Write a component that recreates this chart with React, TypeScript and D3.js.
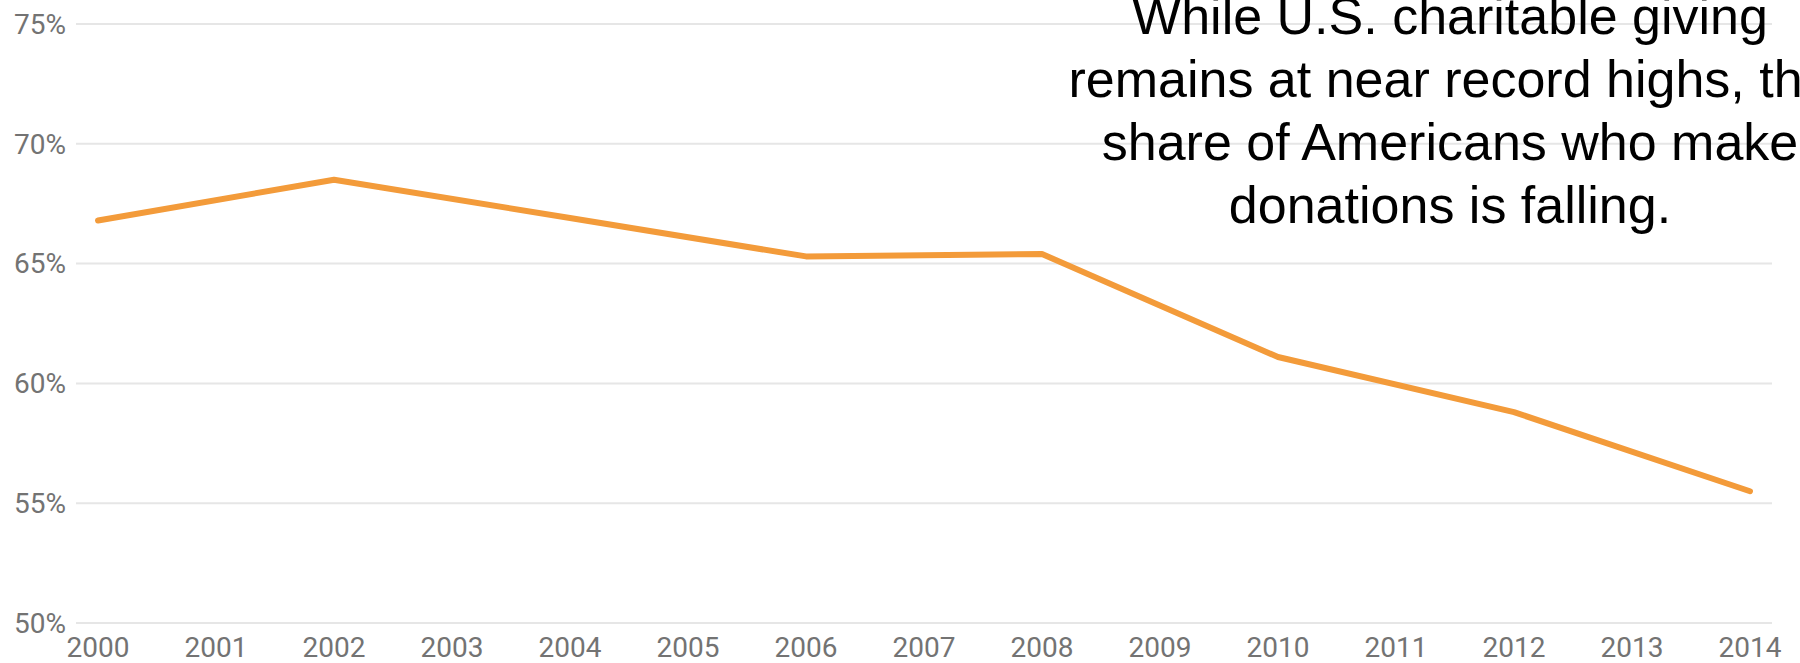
import React, { useEffect } from "react";
import * as d3 from "d3";

const years = [2000, 2002, 2004, 2006, 2008, 2010, 2012, 2014];
const shares = [66.8, 68.5, 66.9, 65.3, 65.4, 61.1, 58.8, 55.5];
const yTicks = [50, 55, 60, 65, 70, 75];
const xTicks = d3.range(2000, 2015);
const noteLines = [
  "While U.S. charitable giving",
  "remains at near record highs, the",
  "share of Americans who make",
  "donations is falling.",
];

const W = 1800;
const H = 663;

export default function App() {
  useEffect(() => {
    document.body.style.margin = "0";
  }, []);

  const x = d3.scaleLinear().domain([2000, 2014]).range([98, 1750]);
  const y = d3.scaleLinear().domain([50, 75]).range([623, 24]);
  const line = d3
    .line<number>()
    .x((_, i) => x(years[i]))
    .y((d) => y(d));

  return (
    <svg width={W} height={H} style={{ display: "block", background: "#fff" }}>
      {yTicks.map((t) => (
        <g key={t}>
          <line x1={76} x2={1772} y1={y(t)} y2={y(t)} stroke="#e6e6e6" strokeWidth={2} />
          <text
            x={66}
            y={y(t)}
            dy="0.35em"
            textAnchor="end"
            fontFamily="Roboto, sans-serif"
            fontSize={28}
            fill="#737373"
          >
            {t}%
          </text>
        </g>
      ))}
      {xTicks.map((t) => (
        <text
          key={t}
          x={x(t)}
          y={657}
          textAnchor="middle"
          fontFamily="Roboto, sans-serif"
          fontSize={28}
          fill="#737373"
        >
          {t}
        </text>
      ))}
      <path
        d={line(shares) || ""}
        fill="none"
        stroke="#f39b3a"
        strokeWidth={6}
        strokeLinejoin="round"
        strokeLinecap="round"
      />
      {noteLines.map((s, i) => (
        <text
          key={i}
          x={1450}
          y={34 + i * 63}
          textAnchor="middle"
          fontFamily="'Liberation Sans', Arial, sans-serif"
          fontSize={52}
          fill="#000"
        >
          {s}
        </text>
      ))}
    </svg>
  );
}
